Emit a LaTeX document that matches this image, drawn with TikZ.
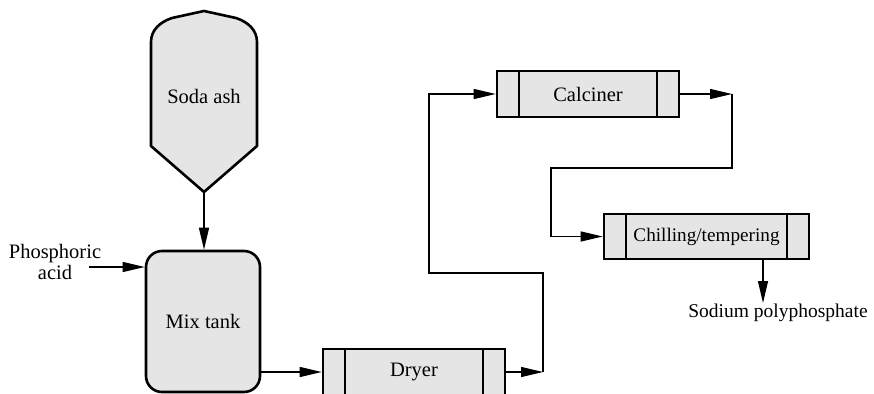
\documentclass[tikz,border=0pt]{standalone}
\usepackage{fontspec}
\setmainfont{LiberationSerif}[Extension=.ttf, UprightFont=*-Regular]
\usetikzlibrary{arrows.meta}
\begin{document}
\begin{tikzpicture}[x=1pt,y=-1pt,
  every node/.style={font=\fontsize{20.5}{21}\selectfont, inner sep=0pt},
  unit/.style={draw, line width=2.6pt, fill=black!10},
  drum/.style={unit, minimum height=#1, path picture={
      \draw[line width=2.6pt] ([xshift=22pt]path picture bounding box.north west) -- ([xshift=22pt]path picture bounding box.south west);
      \draw[line width=2.6pt] ([xshift=-22pt]path picture bounding box.north east) -- ([xshift=-22pt]path picture bounding box.south east);}},
  conn/.style={line width=1.2pt},
  arr/.style={conn, -{Triangle[length=22pt,width=10pt]}}
]
\useasboundingbox (0,0) rectangle (874,393);

% Soda ash hopper
\draw[unit, line join=round] (151,146) -- (151,42) .. controls (151,30) and (160,22) .. (172,18) -- (204,11) -- (236,18) .. controls (248,22) and (257,30) .. (257,42) -- (257,146) -- (204,192) -- cycle;
\node (soda) at (204,96) {Soda ash};
\coordinate (sodabot) at (204,192);

% Mix tank
\node[unit, rounded corners=16pt, minimum width=114pt, minimum height=141pt] (mix) at (203,321.5) {Mix tank};

% Phosphoric acid
\node[align=center] (phos) at (55,262) {Phosphoric\\acid};
\coordinate (pa) at (89,267);

% Drums
\node[drum=46pt, minimum width=182pt] (dryer) at (414,372) {Dryer};
\node[drum=46pt, minimum width=182pt] (calc) at (588,94) {Calciner};
\node[drum=45pt, minimum width=205pt, font=\fontsize{19.2}{21}\selectfont] (chill) at (706.5,236.5) {Chilling/tempering};

% Product
\node[font=\fontsize{19.5}{21}\selectfont] (prod) at (778,313) {Sodium polyphosphate};

% Connectors
\draw[arr] (pa) -- (pa -| mix.west);
\draw[arr] (sodabot) -- (sodabot |- mix.north);
\draw[arr] (mix.east |- dryer.west) -- (dryer.west);

\coordinate (d1) at (543,372);
\coordinate (d2) at (429,273);
\draw[arr] (dryer.east) -- (d1);
\draw[arr] (d1) |- (d2) |- (calc.west);

\coordinate (c1) at (732,94);
\coordinate (c2) at (551,168);
\draw[arr] (calc.east) -- (c1);
\draw[arr] (c1) |- (c2) |- (chill.west);

\coordinate (p1) at (763,259);
\draw[arr] (p1) -- (763,303);
\end{tikzpicture}
\end{document}
